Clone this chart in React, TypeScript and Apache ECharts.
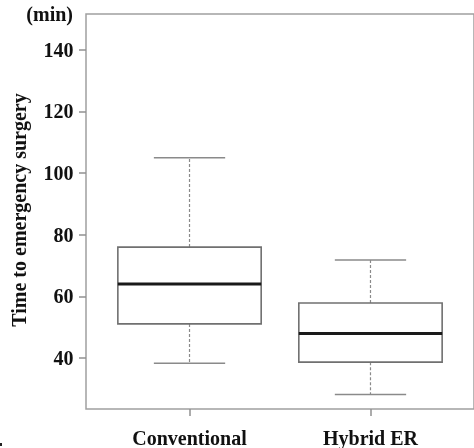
import React, { useEffect, useRef } from "react";
import * as echarts from "echarts";

const categories = ["Conventional", "Hybrid ER"];
const lowerWhisker = [38.3, 28.2];
const q1 = [51.1, 38.7];
const median = [64, 48];
const q3 = [76, 57.9];
const upperWhisker = [105, 71.8];
const yTicks = [40, 60, 80, 100, 120, 140];

const FONT = "'Liberation Serif', 'Times New Roman', serif";
const FS = 20;

export default function App() {
  const ref = useRef<HTMLDivElement>(null);
  useEffect(() => {
    if (!ref.current) return;
    const chart = echarts.init(ref.current, null, { renderer: "svg" });
    const data = categories.map((_, i) => [
      i + 1,
      lowerWhisker[i],
      q1[i],
      median[i],
      q3[i],
      upperWhisker[i],
    ]);
    const boxHalf = 0.396;
    const capHalf = 0.197;
    const grey = "#8a8a8a";
    chart.setOption({
      animation: false,
      grid: {
        left: 86,
        top: 14,
        width: 390,
        height: 398,
        show: true,
        borderColor: "#a0a0a0",
        borderWidth: 1.5,
        backgroundColor: "transparent",
      },
      xAxis: {
        type: "value",
        min: 0.428,
        max: 2.572,
        splitLine: { show: false },
        axisLine: { show: false },
        axisTick: {
          show: true,
          length: 7,
          inside: false,
          customValues: [1, 2],
          lineStyle: { color: "#909090", width: 1.5 },
        },
        axisLabel: {
          customValues: [1, 2],
          formatter: (v: number) => categories[Math.round(v) - 1] ?? "",
          margin: 19,
          fontFamily: FONT,
          fontWeight: "bold",
          fontSize: FS,
          color: "#111",
        },
      },
      yAxis: {
        type: "value",
        min: 23.5,
        max: 151.6,
        splitLine: { show: false },
        axisLine: { show: false },
        axisTick: {
          show: true,
          length: 7,
          inside: false,
          customValues: yTicks,
          lineStyle: { color: "#909090", width: 1.5 },
        },
        axisLabel: {
          customValues: yTicks,
          margin: 12.5,
          fontFamily: FONT,
          fontWeight: "bold",
          fontSize: FS,
          color: "#111",
        },
      },
      graphic: [
        {
          type: "text",
          x: 19,
          y: 210,
          rotation: Math.PI / 2,
          style: {
            text: "Time to emergency surgery",
            font: `bold ${FS}px ${FONT}`,
            fill: "#111",
            align: "center",
            verticalAlign: "middle",
          },
        },
        {
          type: "text",
          x: 73,
          y: 14,
          style: {
            text: "(min)",
            font: `bold ${FS}px ${FONT}`,
            fill: "#111",
            align: "right",
            verticalAlign: "middle",
          },
        },
        {
          type: "rect",
          shape: { x: 0, y: 443, width: 2, height: 3 },
          style: { fill: "#222" },
        },
      ],
      series: [
        {
          type: "custom",
          data,
          encode: { x: 0, y: [1, 2, 3, 4, 5] },
          renderItem: (params: any, api: any) => {
            const x = api.value(0);
            const lw = api.value(1);
            const b1 = api.value(2);
            const md = api.value(3);
            const b3 = api.value(4);
            const uw = api.value(5);
            const pL = api.coord([x - boxHalf, b3]);
            const pR = api.coord([x + boxHalf, b1]);
            const c = (xx: number, yy: number) => api.coord([xx, yy]);
            const line = (a: number[], b: number[], style: any) => ({
              type: "line",
              shape: { x1: a[0], y1: a[1], x2: b[0], y2: b[1] },
              style,
            });
            const solid = { stroke: grey, lineWidth: 1.5 };
            const dashed = { stroke: grey, lineWidth: 1.2, lineDash: [3, 2] };
            return {
              type: "group",
              children: [
                line(c(x, b3), c(x, uw), dashed),
                line(c(x, b1), c(x, lw), dashed),
                line(c(x - capHalf, uw), c(x + capHalf, uw), solid),
                line(c(x - capHalf, lw), c(x + capHalf, lw), solid),
                {
                  type: "rect",
                  shape: {
                    x: pL[0],
                    y: pL[1],
                    width: pR[0] - pL[0],
                    height: pR[1] - pL[1],
                  },
                  style: { fill: "#fff", stroke: "#707070", lineWidth: 1.6 },
                },
                line(c(x - boxHalf, md), c(x + boxHalf, md), {
                  stroke: "#1a1a1a",
                  lineWidth: 3,
                }),
              ],
            };
          },
        },
      ],
    });
    return () => chart.dispose();
  }, []);
  return (
    <div
      ref={ref}
      style={{ position: "fixed", left: 0, top: 0, width: 474, height: 448 }}
    />
  );
}
